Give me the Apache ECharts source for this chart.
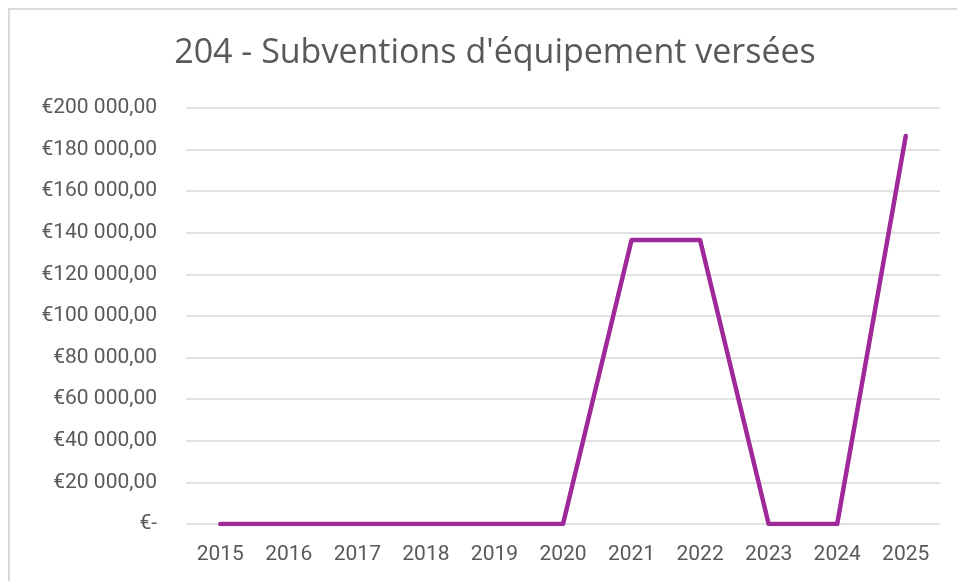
<!DOCTYPE html>
<html>
<head>
<meta charset="utf-8">
<script src="https://cdn.jsdelivr.net/npm/echarts@6/dist/echarts.min.js"></script>
<style>
  html, body { margin: 0; padding: 0; background: #fff; overflow: hidden; }
  .frame {
    position: absolute; left: 8px; top: 8px; width: 1000px; height: 620px;
    border: 2px solid #d9d9d9; box-sizing: border-box;
  }
  #chart { position: absolute; left: 0; top: 0; width: 957px; height: 581px; }
</style>
</head>
<body>
<div class="frame"></div>
<div id="chart"></div>
<script>
const years = ["2015", "2016", "2017", "2018", "2019", "2020", "2021", "2022", "2023", "2024", "2025"];
const montants = [0, 0, 0, 0, 0, 0, 136500, 136500, 0, 0, 186500];

const formatEuro = (v) => {
  if (v === 0) return "€-";
  const s = Math.round(v).toString().replace(/\B(?=(\d{3})+(?!\d))/g, " ");
  return "€" + s + ",00";
};

const chart = echarts.init(document.getElementById("chart"));

const option = {
  animation: false,
  title: {
    text: "204 - Subventions d'équipement versées",
    left: 490,
    top: 31,
    textAlign: "center",
    textStyle: {
      fontFamily: "Open Sans",
      fontSize: 34,
      fontWeight: "normal",
      color: "#595959",
    },
  },
  grid: {
    left: 186,
    right: 17,
    top: 108,
    bottom: 57,
  },
  xAxis: {
    type: "category",
    data: years,
    boundaryGap: true,
    axisLine: { show: false },
    axisTick: { show: false },
    axisLabel: {
      color: "#595959",
      fontFamily: "Roboto",
      fontSize: 21,
      margin: 20,
    },
  },
  yAxis: {
    type: "value",
    min: 0,
    max: 200000,
    interval: 20000,
    axisLine: { show: false },
    axisTick: { show: false },
    axisLabel: {
      color: "#595959",
      fontFamily: "Roboto",
      fontSize: 21,
      margin: 29,
      formatter: formatEuro,
    },
    splitLine: {
      lineStyle: { color: "#d9d9d9", width: 1.5 },
    },
  },
  series: [
    {
      type: "line",
      data: montants,
      symbol: "none",
      lineStyle: {
        color: "#a0299a",
        width: 4.5,
        cap: "round",
        join: "round",
      },
    },
  ],
};

chart.setOption(option);
</script>
</body>
</html>
